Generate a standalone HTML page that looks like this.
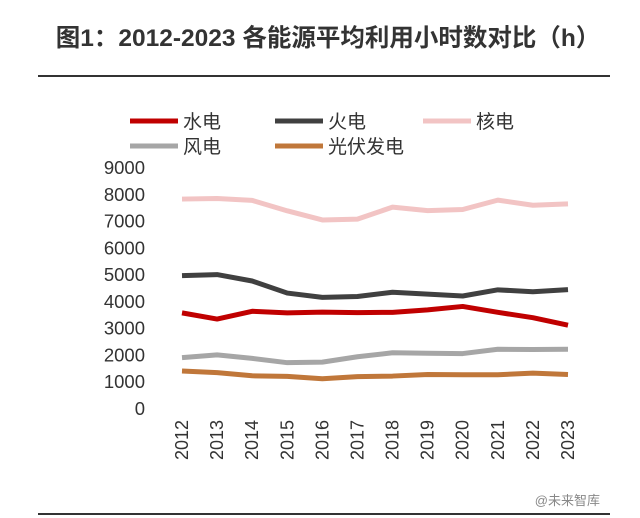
<!DOCTYPE html>
<html><head><meta charset="utf-8"><style>
body{margin:0;background:#fff;}
svg{display:block;font-family:"Liberation Sans","Noto Sans CJK SC",sans-serif;}
</style></head><body>
<svg width="640" height="518" id="c">
<text x="328" y="46" text-anchor="middle" font-size="24.5" font-weight="bold" fill="#333">图1：2012-2023 各能源平均利用小时数对比（h）</text>
<line x1="38" y1="76" x2="610" y2="76" stroke="#333" stroke-width="2"/>
<line x1="38" y1="514" x2="610" y2="514" stroke="#333" stroke-width="2"/>
<g id="legend"></g>
<g id="yaxis"></g>
<g id="xaxis"></g>
<g id="series"></g>
<text x="600" y="505" text-anchor="end" font-size="13" fill="#888">@未来智库</text>
</svg>
<script>
const years=["2012","2013","2014","2015","2016","2017","2018","2019","2020","2021","2022","2023"];
const yTicks=[0,1000,2000,3000,4000,5000,6000,7000,8000,9000];
const hydro=[3590,3360,3650,3590,3620,3600,3610,3700,3830,3610,3410,3130];
const thermal=[4980,5020,4780,4330,4170,4200,4360,4290,4220,4450,4380,4460];
const nuclear=[7840,7860,7790,7400,7060,7090,7540,7410,7450,7800,7610,7660];
const wind=[1920,2020,1890,1730,1750,1950,2100,2080,2070,2230,2220,2230];
const solar=[1420,1360,1240,1220,1130,1210,1230,1290,1280,1280,1340,1290];
const seriesNames=["水电","火电","核电","风电","光伏发电"];
const NS="http://www.w3.org/2000/svg";
function xPos(i){return 182+i*(568-182)/(years.length-1);}
function yPos(v){return 409-v*(409-168)/9000;}
function mk(tag,attrs,parent){const e=document.createElementNS(NS,tag);for(const k in attrs)e.setAttribute(k,attrs[k]);parent.appendChild(e);return e;}
const ya=document.getElementById('yaxis'),xa=document.getElementById('xaxis'),sg=document.getElementById('series'),lg=document.getElementById('legend');
yTicks.forEach(t=>{const e=mk('text',{x:145,y:yPos(t)+6,'text-anchor':'end','font-size':18.5,fill:'#333'},ya);e.textContent=t;

});
years.forEach((y,i)=>{const x=xPos(i);const e=mk('text',{x:0,y:0,transform:`translate(${x+6},420) rotate(-90)`,'text-anchor':'end','font-size':18,fill:'#333'},xa);e.textContent=y;

});
const data=[hydro,thermal,nuclear,wind,solar];
const colors=["#c00000","#404040","#f2c4c4","#a6a6a6","#c0773a"];
const slugs=["hydro","thermal","nuclear","wind","solar"];
[2,1,0,3,4].forEach(k=>{const pts=data[k].map((v,i)=>xPos(i)+','+yPos(v)).join(' ');
const p=mk('polyline',{points:pts,fill:'none',stroke:colors[k],'stroke-width':5,'stroke-linejoin':'round'},sg);

});
const lpos=[[130,121],[275,121],[423,121],[130,146],[275,146]];
lpos.forEach((p,k)=>{const g=mk('g',{},lg);


mk('line',{x1:p[0],y1:p[1],x2:p[0]+48,y2:p[1],stroke:colors[k],'stroke-width':5},g);
const t=mk('text',{x:p[0]+53,y:p[1]+7,'font-size':19,fill:'#333'},g);t.textContent=seriesNames[k];});
</script>
</body></html>
